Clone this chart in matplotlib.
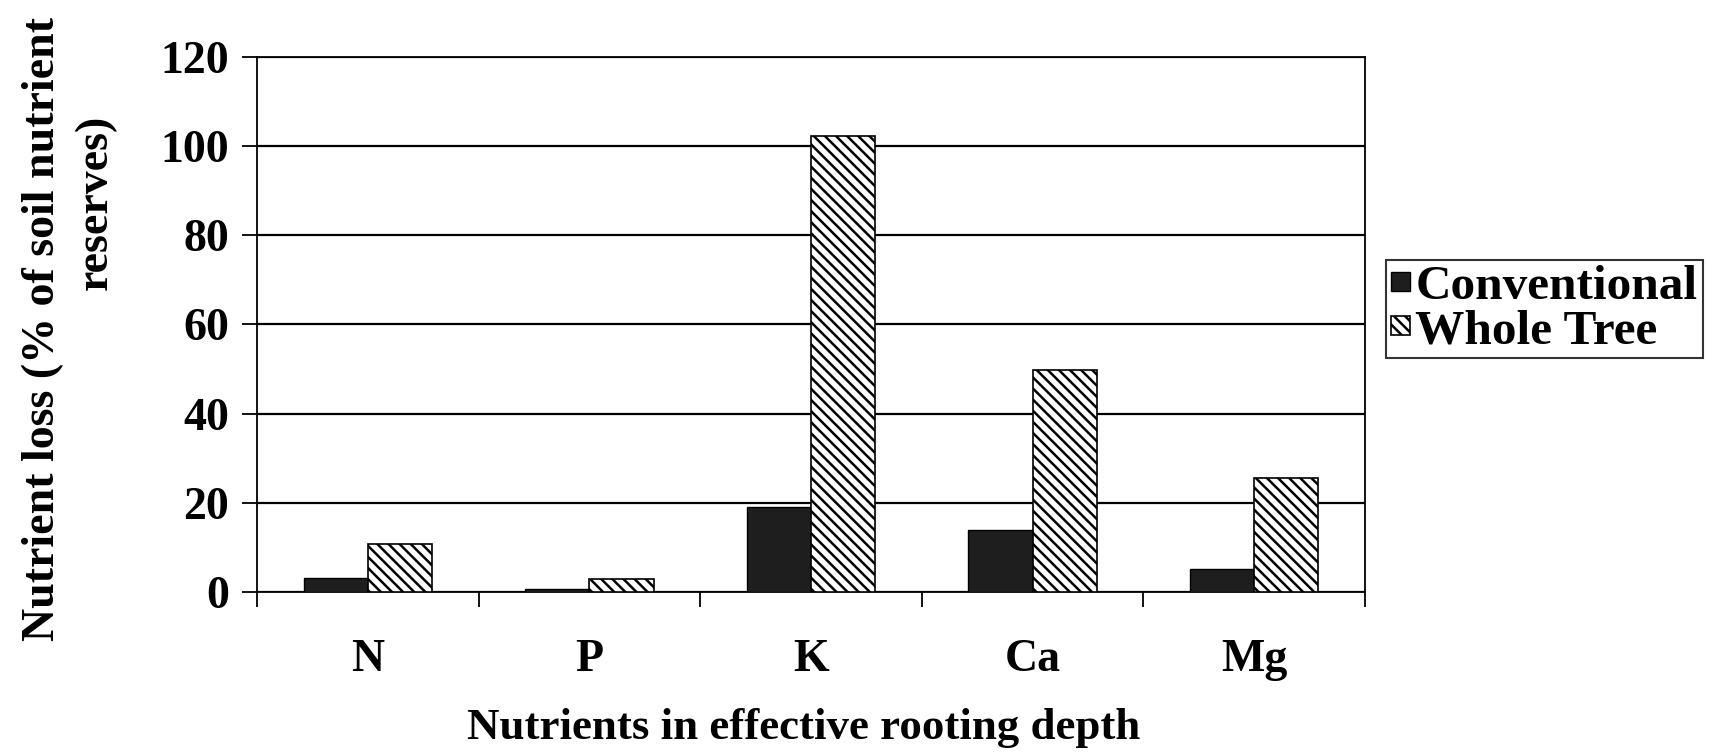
import matplotlib
matplotlib.use("Agg")
import matplotlib.pyplot as plt
import numpy as np

# values
nutrients = ["N", "P", "K", "Ca", "Mg"]
conventional = [3.1, 0.7, 19.0, 14.0, 5.2]
whole_tree = [10.8, 2.8, 102.2, 49.7, 25.6]
yticks = [0, 20, 40, 60, 80, 100, 120]

plt.rcParams["font.family"] = ["Liberation Serif", "DejaVu Serif"]
plt.rcParams["font.weight"] = "bold"
plt.rcParams["hatch.linewidth"] = 1.8

fig = plt.figure(figsize=(17.19, 7.55), dpi=100)
ax = fig.add_axes([0.1495, 0.216, 0.6445, 0.7085])

x = np.arange(len(nutrients))
w = 0.29
ax.bar(x - w/2, conventional, w, color="#1e1e1e", edgecolor="black",
       linewidth=1.0, label="Conventional", zorder=3)
ax.bar(x + w/2, whole_tree, w, color="white", edgecolor="black",
       hatch="\\\\\\", linewidth=1.2, label="Whole Tree", zorder=3)

ax.set_xlim(-0.5, len(nutrients) - 0.5)
ax.set_ylim(0, 120)
ax.set_yticks(yticks)
ax.set_yticklabels([str(v) for v in yticks])
ax.yaxis.grid(True, color="black", linewidth=1.6, zorder=0)

ax.set_xticks(x)
ax.set_xticklabels(nutrients)
ax.set_xticks(np.arange(len(nutrients) + 1) - 0.5, minor=True)
ax.tick_params(axis="x", which="major", length=0, pad=34, labelsize=33)
ax.tick_params(axis="x", which="minor", length=11, width=1.3, direction="out")
ax.tick_params(axis="y", length=11, width=1.3, direction="out", pad=9, labelsize=33)

for s in ax.spines.values():
    s.set_linewidth(1.3)
    s.set_color("black")

fig.text(0.4676, 0.036, "Nutrients in effective rooting depth", ha="center",
         va="center", fontsize=32.3, fontweight="bold")
fig.text(0.025, 0.564, "Nutrient loss (% of soil nutrient", rotation=90,
         ha="center", va="center", fontsize=33, fontweight="bold")
fig.text(0.0555, 0.732, "reserves)", rotation=90,
         ha="center", va="center", fontsize=33, fontweight="bold")

leg = fig.legend(loc="upper left", bbox_to_anchor=(0.8065, 0.655),
                 fontsize=35.5, frameon=True, fancybox=False,
                 handlelength=0.37, handleheight=0.19, handletextpad=0.12,
                 borderpad=0.1, labelspacing=0.0, borderaxespad=0)
leg.get_frame().set_edgecolor("black")
leg.get_frame().set_linewidth(1.5)

fig.savefig("out.png", dpi=100, facecolor="white")
